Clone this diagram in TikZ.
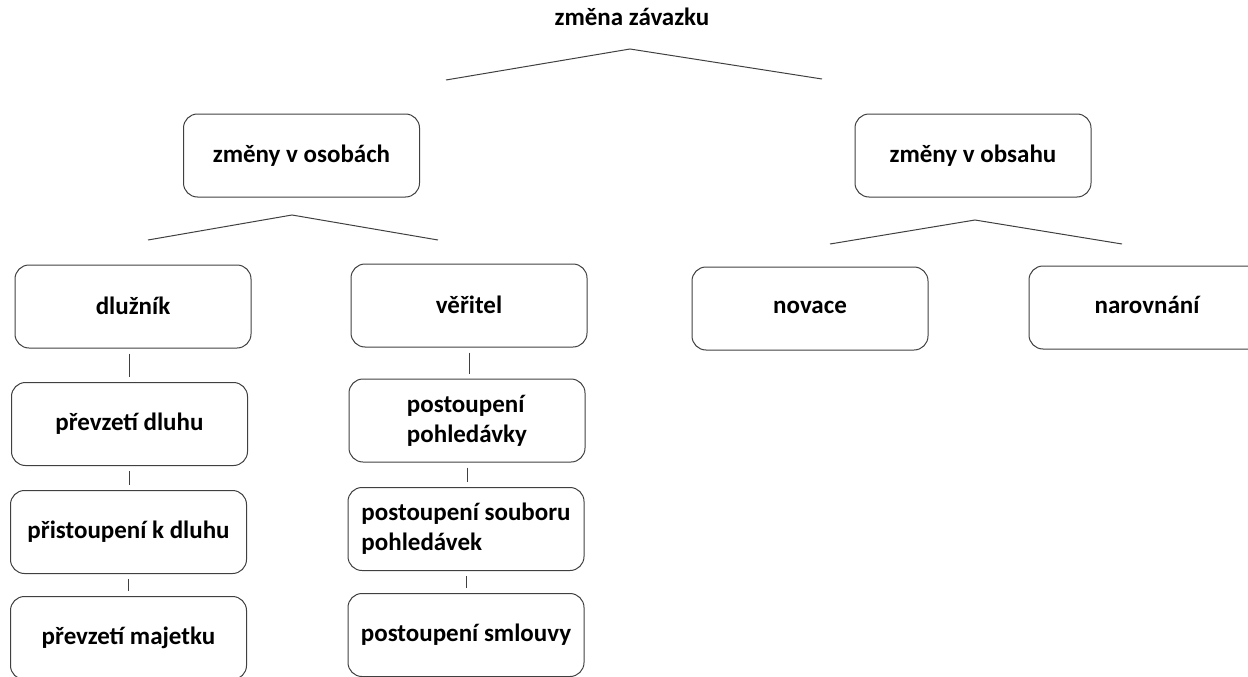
\documentclass[tikz,border=0pt]{standalone}
\usepackage{fontspec}
\setmainfont{Carlito}
\begin{document}
\begin{tikzpicture}[x=1pt,y=-1pt,
  box/.style={draw=black!75, line width=1pt, rounded corners=14pt, minimum width=236pt, minimum height=83pt, inner sep=0pt, align=center, font=\bfseries\fontsize{25}{30}\selectfont},
  conn/.style={draw=black!75, line width=1pt, shorten <=5pt, shorten >=5pt},
  tree/.style={draw=black!75, line width=1pt},
  ttl/.style={font=\bfseries\fontsize{25}{30}\selectfont, inner sep=0pt}]
\useasboundingbox (0,0) rectangle (1248,677);
\clip (0,0) rectangle (1248,677);
\node[ttl] (title) at (632,17) {změna závazku};
\node[box] (osobach) at (301.5,155.5) {změny v osobách};
\node[box] (obsahu) at (973,155.5) {změny v obsahu};
\node[box] (dluznik) at (133,306.5) {\raisebox{2pt}{dlužník}};
\node[box] (veritel) at (469,305.5) {\raisebox{2pt}{věřitel}};
\node[box] (novace) at (810,308.5) {\raisebox{3pt}{novace}};
\node[box] (narovnani) at (1147,307.5) {\raisebox{5pt}{narovnání}};
\node[box] (prevzetidl) at (129.5,424) {převzetí dluhu};
\node[box] (pristoupeni) at (128.5,532) {přistoupení k dluhu};
\node[box] (majetek) at (128.5,638) {převzetí majetku};
\node[box, align=left] (pohledavky) at (467,420.5) {postoupení\\pohledávky};
\node[box, align=left] (soubor) at (466,529) {postoupení souboru\\pohledávek};
\node[box] (smlouvy) at (466,635) {postoupení smlouvy};
% tree branches
\coordinate (t1) at (446,80); \coordinate (t2) at (630,49); \coordinate (t3) at (822,79);
\coordinate (o1) at (148,240); \coordinate (o2) at (292,215); \coordinate (o3) at (438,240);
\coordinate (b1) at (830,244); \coordinate (b2) at (975,220); \coordinate (b3) at (1122,244);
\draw[tree] (t1) -- (t2) -- (t3);
\draw[tree] (o1) -- (o2) -- (o3);
\draw[tree] (b1) -- (b2) -- (b3);
% vertical connectors
\draw[conn] (dluznik.south -| prevzetidl.north) -- (prevzetidl.north);
\draw[conn] (prevzetidl.south) -- (pristoupeni.north -| prevzetidl.south);
\draw[conn] (pristoupeni.south) -- (majetek.north);
\draw[conn] (veritel.south) -- (pohledavky.north -| veritel.south);
\draw[conn] (pohledavky.south) -- (soubor.north -| pohledavky.south);
\draw[conn] (soubor.south) -- (smlouvy.north);
\end{tikzpicture}
\end{document}
